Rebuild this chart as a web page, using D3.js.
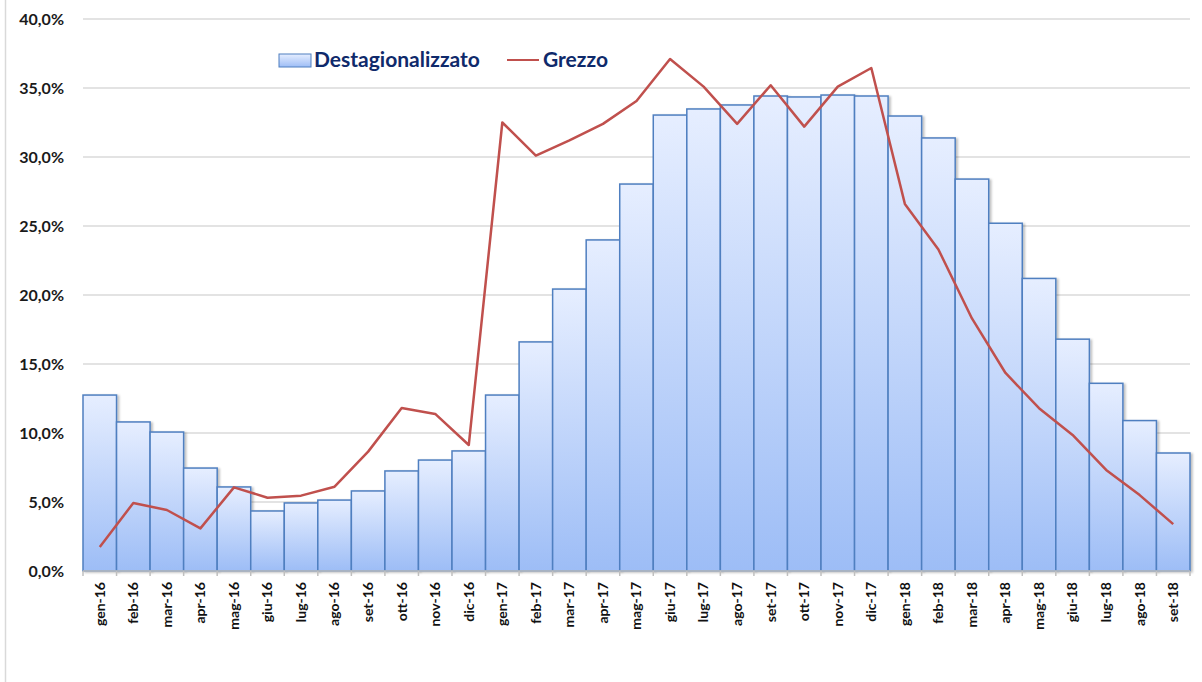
<!DOCTYPE html>
<html>
<head>
<meta charset="utf-8">
<script src="https://cdn.jsdelivr.net/npm/d3@7"></script>
<style>
  body { margin: 0; background: #fff; }
  svg { display: block; font-family: Lato, "Liberation Sans", sans-serif; }
</style>
</head>
<body>
<svg width="1202" height="682"></svg>
<script>
// categories (months)
const months = [
  'gen-16','feb-16','mar-16','apr-16','mag-16','giu-16','lug-16','ago-16','set-16','ott-16','nov-16','dic-16',
  'gen-17','feb-17','mar-17','apr-17','mag-17','giu-17','lug-17','ago-17','set-17','ott-17','nov-17','dic-17',
  'gen-18','feb-18','mar-18','apr-18','mag-18','giu-18','lug-18','ago-18','set-18'
];

// Destagionalizzato (bars), %
const destag = [
  12.75, 10.8, 10.07, 7.46, 6.09, 4.35, 4.93, 5.14, 5.8, 7.25, 8.04, 8.7,
  12.75, 16.6, 20.43, 23.99, 28.04, 33.04, 33.48, 33.77, 34.42, 34.35, 34.49, 34.42,
  32.97, 31.38, 28.4, 25.2, 21.2, 16.8, 13.6, 10.9, 8.55
];

// Grezzo (line), %
const grezzo = [
  1.74, 4.93, 4.42, 3.09, 6.06, 5.31, 5.46, 6.11, 8.65, 11.81, 11.38, 9.13,
  32.5, 30.1, 31.2, 32.4, 34.06, 37.1, 35.1, 32.4, 35.2, 32.2, 35.1, 36.45,
  26.6, 23.3, 18.3, 14.35, 11.8, 9.86, 7.32, 5.5, 3.4
];

const yTicks = [0, 5, 10, 15, 20, 25, 30, 35, 40];

const margin = { top: 19, right: 12, bottom: 111, left: 83 };
const width = 1202 - margin.left - margin.right;
const height = 682 - margin.top - margin.bottom;

const svgRoot = d3.select('svg');

// chart frame (only left edge shows)
svgRoot.append('rect')
  .attr('x', 5.5).attr('y', -2)
  .attr('width', 1300).attr('height', 700)
  .attr('fill', 'none')
  .attr('stroke', '#d9d9d9')
  .attr('stroke-width', 1.5);

const defs = svgRoot.append('defs');
const grad = defs.append('linearGradient')
  .attr('id', 'barGrad')
  .attr('x1', 0).attr('y1', 0).attr('x2', 0).attr('y2', 1);
grad.append('stop').attr('offset', '0%').attr('stop-color', '#e6eeff');
grad.append('stop').attr('offset', '100%').attr('stop-color', '#9dbdf6');

const shadow = defs.append('filter').attr('id', 'shadow')
  .attr('x', '-10%').attr('y', '-10%').attr('width', '130%').attr('height', '130%');
shadow.append('feDropShadow')
  .attr('dx', 2).attr('dy', 1).attr('stdDeviation', 1.2)
  .attr('flood-color', '#000').attr('flood-opacity', 0.25);

const svg = svgRoot.append('g')
  .attr('transform', `translate(${margin.left},${margin.top})`);

const x = d3.scaleBand()
  .domain(months)
  .range([0, width])
  .padding(0);

const y = d3.scaleLinear()
  .domain([0, 40])
  .range([height, 0]);

// gridlines
svg.append('g')
  .selectAll('line')
  .data(yTicks.filter(d => d > 0))
  .enter().append('line')
  .attr('x1', 0).attr('x2', width)
  .attr('y1', d => y(d)).attr('y2', d => y(d))
  .attr('stroke', '#e3e3e3')
  .attr('stroke-width', 2);

// y labels
svg.append('g')
  .selectAll('text')
  .data(yTicks)
  .enter().append('text')
  .attr('x', -19)
  .attr('y', d => y(d))
  .attr('dy', '0.35em')
  .attr('text-anchor', 'end')
  .attr('font-size', 16)
  .attr('font-weight', 'bold')
  .attr('fill', '#1a1a1a')
  .text(d => d.toFixed(1).replace('.', ',') + '%');

// bars
svg.selectAll('.bar')
  .data(months.map((m, i) => ({ m, v: destag[i] })))
  .enter().append('rect')
  .attr('class', 'bar')
  .attr('x', d => x(d.m))
  .attr('y', d => y(d.v))
  .attr('width', x.bandwidth())
  .attr('height', d => height - y(d.v))
  .attr('fill', 'url(#barGrad)')
  .attr('stroke', '#4f7fc0')
  .attr('stroke-width', 1.5)
  .attr('filter', 'url(#shadow)');

// x axis
const xAxis = svg.append('g')
  .attr('transform', `translate(0,${height})`);
xAxis.append('line')
  .attr('x1', 0).attr('x2', width)
  .attr('stroke', '#bfbfbf').attr('stroke-width', 1.5);
xAxis.selectAll('.tick')
  .data(d3.range(months.length + 1))
  .enter().append('line')
  .attr('x1', i => i * x.step()).attr('x2', i => i * x.step())
  .attr('y1', 0).attr('y2', 5)
  .attr('stroke', '#bfbfbf').attr('stroke-width', 1.5);
xAxis.selectAll('text')
  .data(months)
  .enter().append('text')
  .attr('transform', d => `translate(${x(d) + x.bandwidth() / 2},11) rotate(-90)`)
  .attr('text-anchor', 'end')
  .attr('dy', '0.35em')
  .attr('font-size', 14)
  .attr('font-weight', 'bold')
  .attr('fill', '#111')
  .text(d => d);

// line
const line = d3.line()
  .x((d, i) => x(months[i]) + x.bandwidth() / 2)
  .y(d => y(d));
svg.append('path')
  .datum(grezzo)
  .attr('d', line)
  .attr('fill', 'none')
  .attr('stroke', '#c0504d')
  .attr('stroke-width', 2.5)
  .attr('stroke-linejoin', 'round');

// legend
const legend = svgRoot.append('g');
legend.append('rect')
  .attr('x', 279).attr('y', 54).attr('width', 32).attr('height', 13)
  .attr('fill', 'url(#barGrad)')
  .attr('stroke', '#4f7fc0').attr('stroke-width', 1);
legend.append('text')
  .attr('x', 314).attr('y', 60).attr('dy', '0.35em')
  .attr('font-size', 21).attr('font-weight', 'bold')
  .attr('fill', '#0f2a6b')
  .text('Destagionalizzato');
legend.append('line')
  .attr('x1', 507).attr('x2', 539).attr('y1', 60).attr('y2', 60)
  .attr('stroke', '#c0504d').attr('stroke-width', 2);
legend.append('text')
  .attr('x', 543).attr('y', 60).attr('dy', '0.35em')
  .attr('font-size', 21).attr('font-weight', 'bold')
  .attr('fill', '#0f2a6b')
  .text('Grezzo');
</script>
</body>
</html>
